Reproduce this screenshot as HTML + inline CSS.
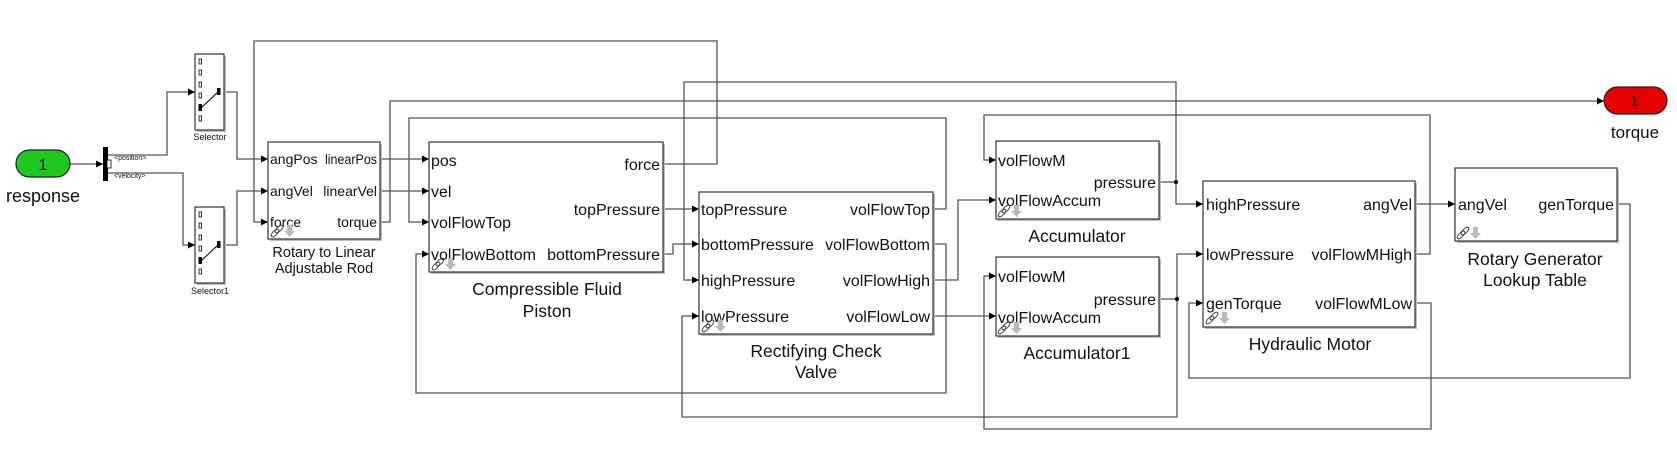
<!DOCTYPE html>
<html><head><meta charset="utf-8"><style>
html,body{margin:0;padding:0;background:#fff;}
svg{display:block;}
text{font-family:"Liberation Sans",Arial,sans-serif;fill:#111;}
.p{font-size:16px;}
.r{font-size:14px;}
.t{font-size:17.5px;}
.w{fill:none;stroke:#555;stroke-width:1.3;}
.b{fill:#fff;stroke:#333;stroke-width:1.2;}
.sh{fill:#bbb;}
</style></head><body>
<svg width="1677" height="462" viewBox="0 0 1677 462" xmlns="http://www.w3.org/2000/svg">
<defs>
<marker id="a" viewBox="0 0 10 10" refX="10" refY="5" markerWidth="7" markerHeight="7" orient="auto" markerUnits="userSpaceOnUse"><path d="M0,0 L10,5 L0,10z" fill="#000"/></marker>
<g id="lnk"><ellipse cx="0" cy="0" rx="5" ry="2.2" transform="rotate(-45)" fill="none" stroke="#444" stroke-width="1"/><ellipse cx="4" cy="-4" rx="5" ry="2.2" transform="rotate(-45 4 -4)" fill="none" stroke="#444" stroke-width="1"/><path d="M12,-8 h5 v6 h3 l-5.5,6 l-5.5,-6 h3z" fill="#bbb"/></g>
</defs>

<g class="w">
<path d="M70,164 H103" marker-end="url(#a)"/>
<path d="M108,155 H167 V92 H195" marker-end="url(#a)"/>
<path d="M108,173 H183 V245 H195" marker-end="url(#a)"/>
<path d="M224,92 H237 V159 H268" marker-end="url(#a)"/>
<path d="M224,245 H237 V191 H268" marker-end="url(#a)"/>
<path d="M663,164 H717 V41 H254 V222 H268" marker-end="url(#a)"/>
<path d="M380,222 H390 V101 H1604" marker-end="url(#a)"/>
<path d="M380,159 H429" marker-end="url(#a)"/>
<path d="M380,191 H429" marker-end="url(#a)"/>
<path d="M933,209 H946 V118 H409 V222 H429" marker-end="url(#a)"/>
<path d="M933,244 H946 V393 H416 V254 H429" marker-end="url(#a)"/>
<path d="M663,209 H699" marker-end="url(#a)"/>
<path d="M663,254 H673 V244 H699" marker-end="url(#a)"/>
<path d="M1159,182 H1176 V82 H684 V280 H699" marker-end="url(#a)"/>
<path d="M1176,182 V204 H1203" marker-end="url(#a)"/>
<path d="M1159,299 H1177 V417 H682 V316 H699" marker-end="url(#a)"/>
<path d="M1177,299 V254 H1203" marker-end="url(#a)"/>
<path d="M933,280 H958 V200 H996" marker-end="url(#a)"/>
<path d="M933,316 H996" marker-end="url(#a)"/>
<path d="M1415,254 H1430 V115 H984 V160 H996" marker-end="url(#a)"/>
<path d="M1415,303 H1431 V429 H984 V276 H996" marker-end="url(#a)"/>
<path d="M1415,204 H1455" marker-end="url(#a)"/>
<path d="M1617,204 H1630 V378 H1189 V303 H1203" marker-end="url(#a)"/>
</g>
<circle cx="1176" cy="182" r="2" fill="#000"/>
<circle cx="1177" cy="299" r="2" fill="#000"/>

<rect x="16" y="150" width="54" height="27" rx="13.5" fill="#1ec81e" stroke="#222" stroke-width="1.2"/>
<text x="43" y="170" text-anchor="middle" style="font-size:16px">1</text>
<text x="43" y="202" text-anchor="middle" style="font-size:18px">response</text>
<rect x="1604" y="87" width="63" height="27" rx="13.5" fill="#e60000" stroke="#222" stroke-width="1.2"/>
<text x="1635" y="106" text-anchor="middle" style="font-size:16px">1</text>
<text x="1635" y="138" text-anchor="middle" style="font-size:17px">torque</text>

<rect x="103" y="147" width="5" height="34" fill="#000"/>
<rect x="107" y="160" width="4" height="8" fill="#fff" stroke="#000" stroke-width="0.8"/>
<text x="114" y="160" style="font-size:7px">&lt;position&gt;</text>
<text x="114" y="178" style="font-size:7px">&lt;velocity&gt;</text>

<g id="sel">
<rect x="197" y="56" width="29" height="76" class="sh"/>
<rect x="195" y="54" width="29" height="76" class="b"/>
<g fill="#fff" stroke="#000" stroke-width="0.8">
<rect x="199" y="59" width="2.5" height="5"/><rect x="199" y="70" width="2.5" height="5"/><rect x="199" y="82" width="2.5" height="5"/><rect x="199" y="93" width="2.5" height="5"/><rect x="199" y="116" width="2.5" height="5"/>
</g>
<rect x="198.5" y="104" width="3.5" height="7" fill="#000"/>
<rect x="217" y="88" width="3.5" height="7" fill="#000"/>
<path d="M201,108 L218,92" stroke="#000" stroke-width="1"/>
</g>
<text x="210" y="140" text-anchor="middle" style="font-size:9px">Selector</text>
<use href="#sel" transform="translate(0,153)"/>
<text x="210" y="294" text-anchor="middle" style="font-size:9px">Selector1</text>

<rect x="270" y="144" width="112" height="97" class="sh"/>
<rect x="268" y="142" width="112" height="97" class="b"/>
<text class="r" x="270" y="164">angPos</text><text class="r" x="270" y="196">angVel</text><text class="r" x="270" y="227">force</text>
<text class="r" x="377" y="164" text-anchor="end" textLength="52" lengthAdjust="spacingAndGlyphs">linearPos</text><text class="r" x="377" y="196" text-anchor="end">linearVel</text><text class="r" x="377" y="227" text-anchor="end">torque</text>
<use href="#lnk" transform="translate(275,233)"/>
<text x="324" y="257" text-anchor="middle" style="font-size:14.5px">Rotary to Linear</text>
<text x="324" y="273" text-anchor="middle" style="font-size:14.5px">Adjustable Rod</text>

<rect x="431" y="144" width="234" height="130" class="sh"/>
<rect x="429" y="142" width="234" height="130" class="b"/>
<text class="p" x="431" y="166">pos</text><text class="p" x="431" y="197">vel</text><text class="p" x="431" y="228">volFlowTop</text><text class="p" x="431" y="260">volFlowBottom</text>
<text class="p" x="660" y="170" text-anchor="end">force</text><text class="p" x="660" y="215" text-anchor="end">topPressure</text><text class="p" x="660" y="260" text-anchor="end">bottomPressure</text>
<use href="#lnk" transform="translate(436,266)"/>
<text class="t" x="547" y="295" text-anchor="middle">Compressible Fluid</text>
<text class="t" x="547" y="317" text-anchor="middle">Piston</text>

<rect x="701" y="194" width="234" height="142" class="sh"/>
<rect x="699" y="192" width="234" height="142" class="b"/>
<text class="p" x="701" y="215">topPressure</text><text class="p" x="701" y="250">bottomPressure</text><text class="p" x="701" y="286">highPressure</text><text class="p" x="701" y="322">lowPressure</text>
<text class="p" x="930" y="215" text-anchor="end">volFlowTop</text><text class="p" x="930" y="250" text-anchor="end">volFlowBottom</text><text class="p" x="930" y="286" text-anchor="end">volFlowHigh</text><text class="p" x="930" y="322" text-anchor="end">volFlowLow</text>
<use href="#lnk" transform="translate(706,328)"/>
<text class="t" x="816" y="357" text-anchor="middle">Rectifying Check</text>
<text class="t" x="816" y="378" text-anchor="middle">Valve</text>

<rect x="998" y="143" width="163" height="78" class="sh"/>
<rect x="996" y="141" width="163" height="78" class="b"/>
<text class="p" x="998" y="166">volFlowM</text><text class="p" x="998" y="206">volFlowAccum</text>
<text class="p" x="1156" y="188" text-anchor="end">pressure</text>
<use href="#lnk" transform="translate(1002,213)"/>
<text class="t" x="1077" y="242" text-anchor="middle">Accumulator</text>

<rect x="998" y="259" width="163" height="79" class="sh"/>
<rect x="996" y="257" width="163" height="79" class="b"/>
<text class="p" x="998" y="282">volFlowM</text><text class="p" x="998" y="323">volFlowAccum</text>
<text class="p" x="1156" y="305" text-anchor="end">pressure</text>
<use href="#lnk" transform="translate(1002,330)"/>
<text class="t" x="1077" y="359" text-anchor="middle">Accumulator1</text>

<rect x="1205" y="183" width="212" height="146" class="sh"/>
<rect x="1203" y="181" width="212" height="146" class="b"/>
<text class="p" x="1206" y="210">highPressure</text><text class="p" x="1206" y="260">lowPressure</text><text class="p" x="1206" y="309">genTorque</text>
<text class="p" x="1412" y="210" text-anchor="end">angVel</text><text class="p" x="1412" y="260" text-anchor="end">volFlowMHigh</text><text class="p" x="1412" y="309" text-anchor="end">volFlowMLow</text>
<use href="#lnk" transform="translate(1210,320)"/>
<text class="t" x="1310" y="350" text-anchor="middle">Hydraulic Motor</text>

<rect x="1457" y="170" width="162" height="73" class="sh"/>
<rect x="1455" y="168" width="162" height="73" class="b"/>
<text class="p" x="1458" y="210">angVel</text>
<text class="p" x="1614" y="210" text-anchor="end">genTorque</text>
<use href="#lnk" transform="translate(1461,235)"/>
<text class="t" x="1535" y="265" text-anchor="middle">Rotary Generator</text>
<text class="t" x="1535" y="286" text-anchor="middle">Lookup Table</text>
</svg>
</body></html>
